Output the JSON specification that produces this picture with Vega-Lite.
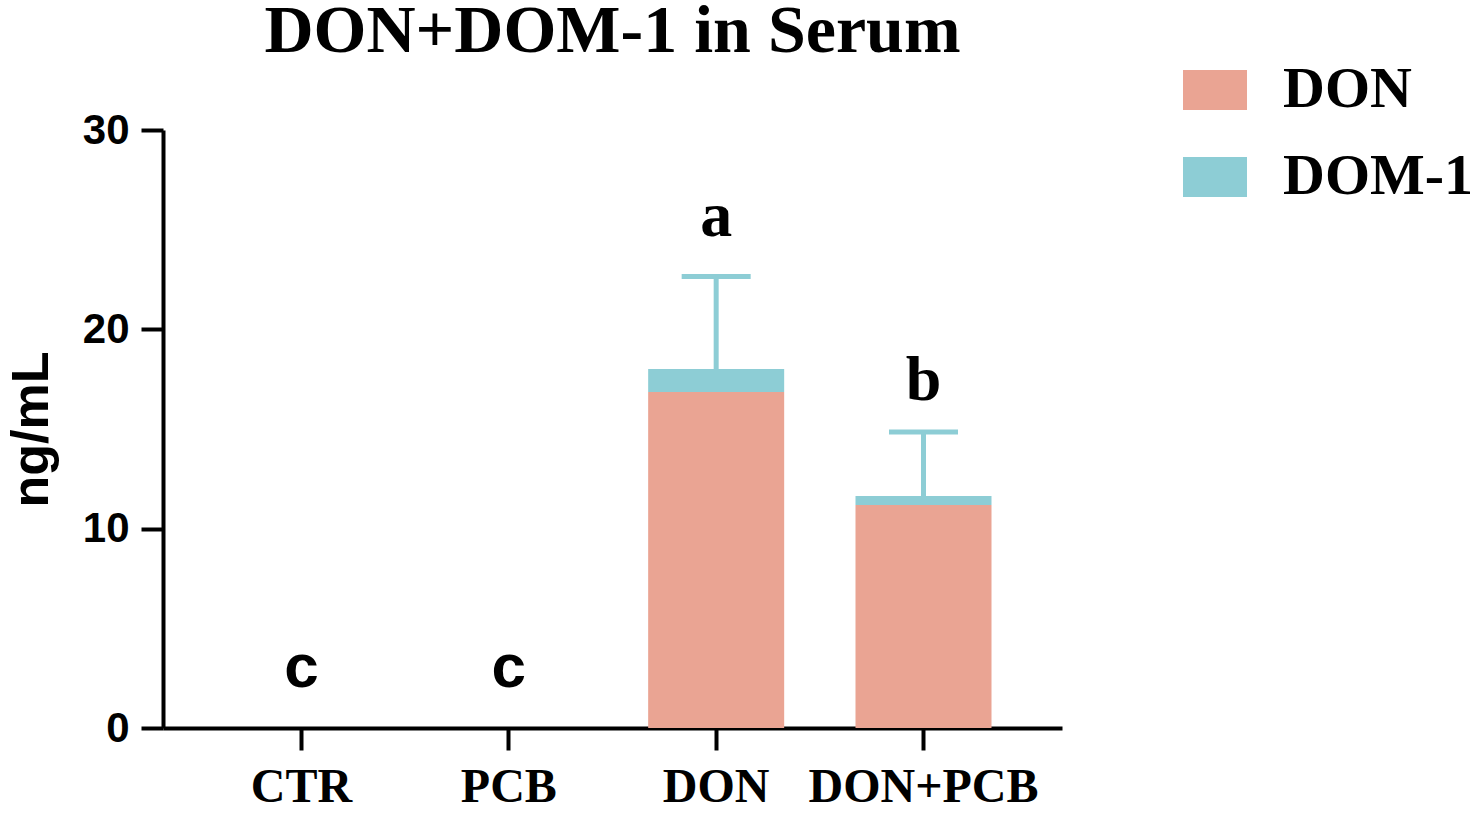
{
  "$schema": "https://vega.github.io/schema/vega-lite/v6.json",
  "width": 899,
  "height": 598,
  "autosize": {"type": "none"},
  "padding": {"left": 163, "top": 130, "right": 419, "bottom": 85},
  "background": "white",
  "title": {
    "text": "DON+DOM-1 in Serum",
    "font": "Liberation Serif",
    "fontSize": 68,
    "fontWeight": "bold",
    "color": "black",
    "anchor": "middle",
    "frame": "group",
    "offset": -8
  },
  "config": {
    "view": {"stroke": null},
    "axis": {"grid": false, "domainColor": "black", "domainWidth": 4, "tickColor": "black", "tickWidth": 4, "tickSize": 22, "labelColor": "black", "titleColor": "black"},
    "axisY": {
      "labelFont": "Liberation Sans",
      "labelFontSize": 42,
      "labelFontWeight": "bold",
      "labelPadding": 12,
      "titleFont": "Liberation Sans",
      "titleFontSize": 52,
      "titleFontWeight": "bold",
      "titlePadding": 24
    }
  },
  "datasets": {
    "bars": [
      {"group": "CTR", "component": "DON", "value": 0},
      {"group": "CTR", "component": "DOM-1", "value": 0},
      {"group": "PCB", "component": "DON", "value": 0},
      {"group": "PCB", "component": "DOM-1", "value": 0},
      {"group": "DON", "component": "DON", "value": 16.86},
      {"group": "DON", "component": "DOM-1", "value": 1.15},
      {"group": "DON+PCB", "component": "DON", "value": 11.19},
      {"group": "DON+PCB", "component": "DOM-1", "value": 0.45}
    ],
    "errors": [
      {"group": "DON", "mean": 18.01, "upper": 22.65},
      {"group": "DON+PCB", "mean": 11.64, "upper": 14.85}
    ],
    "sansLetters": [
      {"group": "CTR", "letter": "c", "pos": 3.0},
      {"group": "PCB", "letter": "c", "pos": 3.0}
    ],
    "serifLetters": [
      {"group": "DON", "letter": "a", "pos": 24.7},
      {"group": "DON+PCB", "letter": "b", "pos": 16.45}
    ]
  },
  "encoding": {
    "x": {
      "field": "group",
      "type": "nominal",
      "sort": ["CTR", "PCB", "DON", "DON+PCB"],
      "scale": {"paddingInner": 0.344, "paddingOuter": 0.34},
      "axis": {
        "title": null,
        "labelAngle": 0,
        "labelFont": "Liberation Serif",
        "labelFontSize": 48,
        "labelFontWeight": "bold",
        "labelPadding": 13,
        "labelLimit": 400
      }
    }
  },
  "layer": [
    {
      "data": {"name": "bars"},
      "mark": {"type": "bar"},
      "encoding": {
        "y": {
          "field": "value",
          "type": "quantitative",
          "stack": "zero",
          "title": "ng/mL",
          "scale": {"domain": [0, 30], "nice": false},
          "axis": {"values": [0, 10, 20, 30]}
        },
        "color": {
          "field": "component",
          "type": "nominal",
          "scale": {"domain": ["DON", "DOM-1"], "range": ["#EAA493", "#8DCDD5"]},
          "legend": {
            "title": null,
            "orient": "none",
            "legendX": 1020,
            "legendY": -72,
            "symbolType": "M-1,-0.625H1V0.625H-1Z",
            "symbolSize": 4096,
            "symbolStrokeWidth": 0,
            "labelFont": "Liberation Serif",
            "labelFontSize": 58,
            "labelFontWeight": "bold",
            "labelColor": "black",
            "labelOffset": 36,
            "rowPadding": 26,
            "labelLimit": 400
          }
        },
        "order": {"field": "component", "sort": "descending"}
      }
    },
    {
      "data": {"name": "errors"},
      "mark": {"type": "rule", "color": "#8DCDD5", "strokeWidth": 5},
      "encoding": {
        "y": {"field": "mean", "type": "quantitative", "title": "ng/mL", "axis": {"values": [0, 10, 20, 30]}},
        "y2": {"field": "upper"}
      }
    },
    {
      "data": {"name": "errors"},
      "mark": {"type": "tick", "color": "#8DCDD5", "thickness": 5, "size": 69, "opacity": 1},
      "encoding": {
        "y": {"field": "upper", "type": "quantitative", "title": "ng/mL", "axis": {"values": [0, 10, 20, 30]}}
      }
    },
    {
      "data": {"name": "sansLetters"},
      "mark": {"type": "text", "font": "Liberation Sans", "fontSize": 62, "fontWeight": "bold", "color": "black", "baseline": "middle", "align": "center"},
      "encoding": {
        "y": {"field": "pos", "type": "quantitative", "title": "ng/mL", "axis": {"values": [0, 10, 20, 30]}},
        "text": {"field": "letter"}
      }
    },
    {
      "data": {"name": "serifLetters"},
      "mark": {"type": "text", "font": "Liberation Serif", "fontSize": 64, "fontWeight": "bold", "color": "black", "baseline": "alphabetic", "align": "center"},
      "encoding": {
        "y": {"field": "pos", "type": "quantitative", "title": "ng/mL", "axis": {"values": [0, 10, 20, 30]}},
        "text": {"field": "letter"}
      }
    }
  ]
}
